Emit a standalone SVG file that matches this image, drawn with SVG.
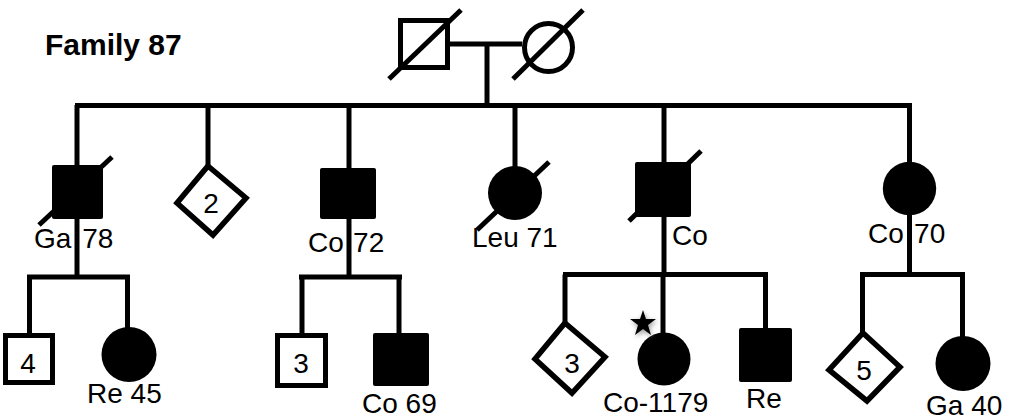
<svg xmlns="http://www.w3.org/2000/svg" width="1012" height="419" viewBox="0 0 1012 419">
<defs>
<style>
.ln{stroke:#000;stroke-width:5;fill:none;stroke-linecap:butt}
.sl{stroke:#000;stroke-width:5;fill:none}
.open{fill:#fff;stroke:#000;stroke-width:5}
.dia{fill:#fff;stroke:#000;stroke-width:5.5;stroke-linejoin:miter}
.aff{fill:#000;stroke:none}
.lbl{font-family:"Liberation Sans",Arial,sans-serif;font-size:28px;fill:#000}
.num{font-family:"Liberation Sans",Arial,sans-serif;font-size:28px;fill:#000;text-anchor:middle}
.title{font-family:"Liberation Sans",Arial,sans-serif;font-size:30px;font-weight:bold;fill:#000}
</style>
<filter id="glow" x="-50%" y="-50%" width="200%" height="200%">
<feGaussianBlur stdDeviation="2.5"/>
</filter>
</defs>
<rect width="1012" height="419" fill="#fff"/>
<text class="title" x="45" y="55">Family 87</text>

<g id="connectors">
<line class="ln" x1="450" y1="44" x2="522" y2="44"/>
<line class="ln" x1="487" y1="44" x2="487" y2="106"/>
<line class="ln" x1="75" y1="105.5" x2="912" y2="105.5"/>
<line class="ln" x1="77" y1="105" x2="77" y2="166"/>
<line class="ln" x1="208" y1="105" x2="208" y2="166"/>
<line class="ln" x1="349" y1="105" x2="349" y2="168"/>
<line class="ln" x1="515" y1="105" x2="515" y2="167"/>
<line class="ln" x1="664" y1="105" x2="664" y2="162"/>
<line class="ln" x1="909.5" y1="105" x2="909.5" y2="162"/>
<line class="ln" x1="77" y1="218" x2="77" y2="277"/>
<line class="ln" x1="27" y1="277" x2="130" y2="277"/>
<line class="ln" x1="29.5" y1="277" x2="29.5" y2="334"/>
<line class="ln" x1="127.5" y1="277" x2="127.5" y2="328"/>
<line class="ln" x1="349" y1="218" x2="349" y2="277"/>
<line class="ln" x1="299" y1="277" x2="402" y2="277"/>
<line class="ln" x1="302" y1="277" x2="302" y2="334"/>
<line class="ln" x1="399" y1="277" x2="399" y2="334"/>
<line class="ln" x1="664" y1="216" x2="664" y2="275"/>
<line class="ln" x1="563" y1="274.5" x2="768" y2="274.5"/>
<line class="ln" x1="565" y1="274.5" x2="565" y2="323"/>
<line class="ln" x1="663" y1="274.5" x2="663" y2="333"/>
<line class="ln" x1="765.5" y1="274.5" x2="765.5" y2="329"/>
<line class="ln" x1="909.5" y1="214" x2="909.5" y2="275"/>
<line class="ln" x1="860" y1="274.5" x2="965" y2="274.5"/>
<line class="ln" x1="862.5" y1="274.5" x2="862.5" y2="333"/>
<line class="ln" x1="962.5" y1="274.5" x2="962.5" y2="337"/>
</g>

<g id="father">
<rect class="open" x="400.5" y="20.5" width="47" height="47"/>
<line class="sl" x1="389" y1="79" x2="461" y2="10"/>
</g>
<g id="mother">
<circle class="open" cx="548.5" cy="47.5" r="24"/>
<line class="sl" x1="513" y1="79" x2="583" y2="10"/>
</g>

<g id="ga78">
<rect class="aff" x="52" y="165" width="51" height="54" rx="2"/>
<line class="sl" x1="39" y1="225" x2="112" y2="157"/>
<text class="lbl" x="34" y="248" word-spacing="3">Ga 78</text>
</g>
<g id="sib2">
<polygon class="dia" points="208,166 246,198 213,235 177,203"/>
<text class="num" x="211" y="213">2</text>
</g>
<g id="co72">
<rect class="aff" x="320" y="168" width="56" height="51" rx="2"/>
<text class="lbl" x="308" y="252" word-spacing="1.5">Co 72</text>
</g>
<g id="leu71">
<circle class="aff" cx="515" cy="193" r="27"/>
<line class="sl" x1="477" y1="230" x2="549" y2="162"/>
<text class="lbl" x="472" y="247">Leu 71</text>
</g>
<g id="co">
<rect class="aff" x="635" y="162" width="56" height="55" rx="2"/>
<line class="sl" x1="629" y1="221" x2="701" y2="151"/>
<text class="lbl" x="672" y="245">Co</text>
</g>
<g id="co70">
<circle class="aff" cx="909.5" cy="188.5" r="26.7"/>
<text class="lbl" x="868" y="243" word-spacing="2.5">Co 70</text>
</g>

<g id="sib4">
<rect class="open" x="5.5" y="335.5" width="47" height="47"/>
<text class="num" x="28" y="373">4</text>
</g>
<g id="re45">
<circle class="aff" cx="129" cy="354.5" r="27.5"/>
<text class="lbl" x="87" y="403">Re 45</text>
</g>
<g id="sib3a">
<rect class="open" x="277.5" y="335.5" width="48" height="50"/>
<text class="num" x="301" y="373">3</text>
</g>
<g id="co69">
<rect class="aff" x="373" y="333" width="56" height="53" rx="2"/>
<text class="lbl" x="362" y="413">Co 69</text>
</g>
<g id="sib3b">
<polygon class="dia" points="565,323 605,357 572,393 535,359"/>
<text class="num" x="572" y="373">3</text>
</g>
<g id="co1179">
<circle class="aff" cx="664" cy="359" r="26.5"/>
<polygon points="643,310 646,319 656,319 648,325 651,335 643,329 635,335 638,325 630,319 640,319" fill="#999" filter="url(#glow)" transform="translate(1,2)"/>
<polygon points="643,310 646,319 656,319 648,325 651,335 643,329 635,335 638,325 630,319 640,319" fill="#000"/>
<text class="lbl" x="603" y="412">Co-1179</text>
</g>
<g id="re">
<rect class="aff" x="739" y="328" width="53" height="54" rx="2"/>
<text class="lbl" x="746" y="408">Re</text>
</g>
<g id="sib5">
<polygon class="dia" points="863,333 900,367 867,401 829,370"/>
<text class="num" x="864" y="380">5</text>
</g>
<g id="ga40">
<circle class="aff" cx="963" cy="363.5" r="27.5"/>
<text class="lbl" x="926" y="415">Ga 40</text>
</g>
</svg>
